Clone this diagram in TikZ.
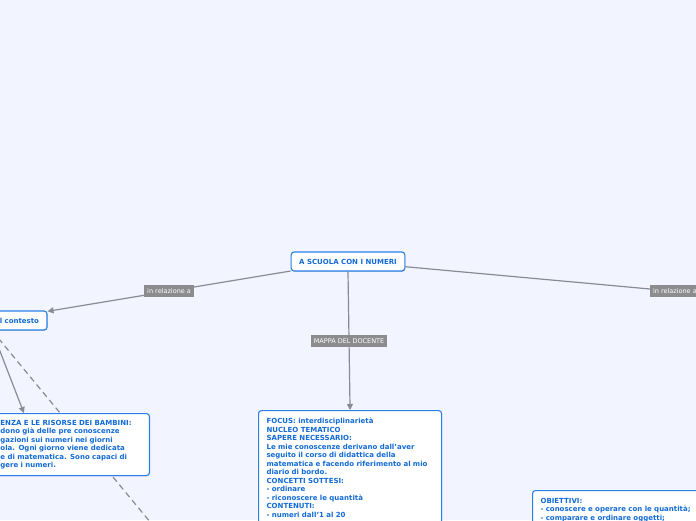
\documentclass[tikz,border=0pt]{standalone}
\usepackage{fontspec}
\setmainfont{DejaVu Sans}
\usetikzlibrary{arrows.meta, positioning, shadows}
\definecolor{mapbg}{RGB}{242,245,255}
\definecolor{mapblue}{RGB}{40,128,232}
\definecolor{mapink}{RGB}{18,106,214}
\definecolor{mapgrey}{RGB}{138,138,150}
\definecolor{tagfill}{RGB}{140,140,142}
\pgfdeclarelayer{bg}
\pgfdeclarelayer{wires}
\pgfsetlayers{bg,wires,main}
\tikzset{
  topic/.style={rectangle, rounded corners=3pt, draw=mapblue, line width=1.1pt,
                fill=white, text=mapink, inner xsep=8pt, inner ysep=4pt,
                font=\fontsize{7}{8.5}\selectfont\bfseries,
                drop shadow={shadow xshift=0.5pt, shadow yshift=-0.8pt, opacity=0.35}},
  subtopic/.style={topic, align=left, inner ysep=7.5pt},
  tag/.style={rectangle, fill=tagfill, text=white, inner xsep=3pt, inner ysep=2pt,
              font=\fontsize{6.5}{7.5}\selectfont, minimum height=12pt},
  link/.style={draw=mapgrey, line width=1.2pt, -{Triangle[length=6pt, width=6pt]}},
}
\begin{document}
\begin{tikzpicture}[x=1pt, y=-1pt]
  \useasboundingbox (0,0) rectangle (696,520);
  \clip (0,0) rectangle (696,520);
  \begin{pgfonlayer}{bg}
    \fill[mapbg] (0,0) rectangle (696,520);
  \end{pgfonlayer}

  % nodes
  \node[topic, minimum height=19pt] (root) at (348,261.5) {A SCUOLA CON I NUMERI};
  \node[topic, text width=94pt, align=right, minimum height=19pt] (ctx) at (-8,320.5) {Il contesto};
  \node[subtopic, inner ysep=4pt, text width=141pt, minimum height=62pt, anchor=north east] (risorse) at (150,413) {%
    ENZA E LE RISORSE DEI BAMBINI:\\
    dono già delle pre conoscenze\\
    gazioni sui numeri nei giorni\\
    ola. Ogni giorno viene dedicata\\
    e di matematica. Sono capaci di\\
    gere i numeri.};
  \node[subtopic, text width=167pt, anchor=north west] (focus) at (258,410) {%
    FOCUS: interdisciplinarietà\\
    NUCLEO TEMATICO\\
    SAPERE NECESSARIO:\\
    Le mie conoscenze derivano dall'aver\\
    seguito il corso di didattica della\\
    matematica e facendo riferimento al mio\\
    diario di bordo.\\
    CONCETTI SOTTESI:\\
    - ordinare\\
    - riconoscere le quantità\\
    CONTENUTI:\\
    - numeri dall'1 al 20\\
    \rule{0pt}{14pt}};
  \node[subtopic, text width=170pt, anchor=north west] (obiettivi) at (532,490) {%
    OBIETTIVI:\\
    - conoscere e operare con le quantità;\\
    - comparare e ordinare oggetti;\\
    \rule{0pt}{14pt}};
  \coordinate (farright) at (760,299);
  \coordinate (farbelow) at (165,540);

  % connectors
  \begin{pgfonlayer}{wires}
    \draw[link] (root) -- node[tag] {in relazione a} (ctx);
    \draw[link] (root) -- node[tag, pos=0.76] {in relazione a} (farright);
    \draw[link] (root.south) -- node[tag] {MAPPA DEL DOCENTE} (focus.north);
    \draw[link] (ctx.south) -- ([xshift=32pt]risorse.north west);
    \draw[link, dash pattern=on 6pt off 4pt] (ctx.south) -- (farbelow);
  \end{pgfonlayer}
\end{tikzpicture}
\end{document}
